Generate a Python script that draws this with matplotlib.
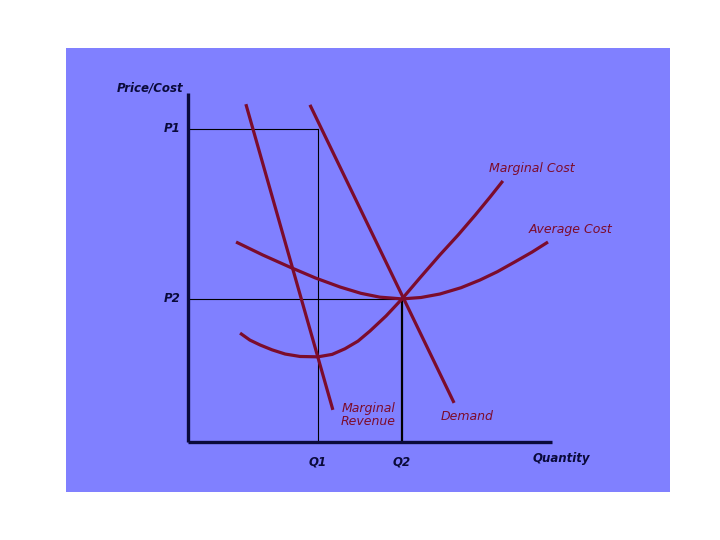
import matplotlib
matplotlib.use('Agg')
import matplotlib.pyplot as plt

# Key levels (axis units: 0..10 on both axes)
q1, q2 = 3.57, 5.88
p1, p2 = 8.97, 4.10

# Curves
demand_q = [3.35, 7.31]
demand_p = [9.66, 1.12]

mr_q = [1.59, 3.98]
mr_p = [9.68, 0.92]

mc_q = [1.43, 1.70, 1.98, 2.31, 2.67, 3.08, 3.57, 3.96, 4.31, 4.67, 5.00, 5.44, 5.88, 6.37, 6.92, 7.42, 7.89, 8.30, 8.65]
mc_p = [3.12, 2.92, 2.78, 2.64, 2.52, 2.45, 2.44, 2.51, 2.67, 2.89, 3.18, 3.61, 4.10, 4.70, 5.36, 5.93, 6.50, 7.02, 7.48]

ac_q = [1.32, 2.05, 2.80, 3.50, 4.18, 4.75, 5.27, 5.88, 6.40, 6.92, 7.50, 8.02, 8.50, 8.98, 9.45, 9.89]
ac_p = [5.73, 5.36, 5.01, 4.70, 4.44, 4.26, 4.15, 4.10, 4.14, 4.24, 4.42, 4.64, 4.88, 5.16, 5.44, 5.73]

curve_col = '#7c0c2c'
axis_col = '#0a0a3a'

fig = plt.figure(figsize=(7.2, 5.4), dpi=100)
fig.patch.set_facecolor('white')
ax = fig.add_axes([66/720, 48/540, 604/720, 444/540])
ax.set_facecolor('#8080ff')
ax.set_xlim(-3.352, 13.242)
ax.set_ylim(-1.433, 11.289)
for s in ax.spines.values():
    s.set_visible(False)
ax.set_xticks([])
ax.set_yticks([])

# guide lines
ax.plot([0, q1], [p1, p1], color='black', lw=0.8)
ax.plot([q1, q1], [0, p1], color='black', lw=0.8)
ax.plot([0, q2], [p2, p2], color='black', lw=0.8)
ax.plot([q2, q2], [0, p2], color='black', lw=1.6)

# curves
style = dict(color=curve_col, lw=2.3, solid_capstyle='butt', solid_joinstyle='round')
ax.plot(demand_q, demand_p, **style)
ax.plot(mr_q, mr_p, **style)
ax.plot(mc_q, mc_p, **style)
ax.plot(ac_q, ac_p, **style)

# axes
ax.plot([0, 0], [0, 10], color=axis_col, lw=2.4, solid_capstyle='butt')
ax.plot([0, 10], [0, 0], color=axis_col, lw=2.4, solid_capstyle='butt')

lab = dict(style='italic', weight='bold', color=axis_col, fontsize=8.5)
ax.text(-1.05, 10.14, 'Price/Cost', ha='center', va='center', **lab)
ax.text(-0.2, p1, 'P1', ha='right', va='center', **lab)
ax.text(-0.2, p2, 'P2', ha='right', va='center', **lab)
ax.text(q1, -0.57, 'Q1', ha='center', va='center', **lab)
ax.text(q2, -0.57, 'Q2', ha='center', va='center', **lab)
ax.text(10.25, -0.46, 'Quantity', ha='center', va='center', **lab)

clab = dict(style='italic', color=curve_col, fontsize=9)
ax.text(9.45, 7.85, 'Marginal Cost', ha='center', va='center', **clab)
ax.text(10.52, 6.10, 'Average Cost', ha='center', va='center', **clab)
ax.text(4.95, 0.77, 'Marginal\nRevenue', ha='center', va='center', linespacing=1.0, **clab)
ax.text(7.67, 0.72, 'Demand', ha='center', va='center', **clab)

fig.savefig('out.png', dpi=100)
